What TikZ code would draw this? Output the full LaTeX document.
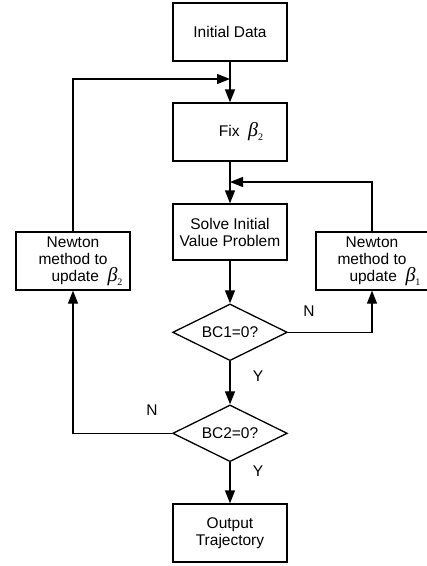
\documentclass[tikz,border=0pt]{standalone}
\usepackage[no-math]{fontspec}
\setmainfont{Liberation Sans}
\newfontfamily\betafont{Liberation Serif}
\usetikzlibrary{shapes.geometric,arrows.meta}
\newcommand{\bt}[1]{{\betafont\fontsize{20}{20}\selectfont\itshape β}\raisebox{-4pt}{\betafont\fontsize{10}{10}\selectfont #1}}
\begin{document}
\begin{tikzpicture}[x=1pt,y=-1pt,
  font=\fontsize{15.5}{17}\selectfont,
  line width=1.3pt,
  boxnode/.style={draw,rectangle,minimum width=114pt,minimum height=58pt,inner sep=0pt,align=center},
  decide/.style={draw,diamond,aspect=2,minimum width=114.6pt,minimum height=56.7pt,inner sep=0pt},
  flow/.style={-{Triangle[length=13pt,width=10pt]}},
  lbl/.style={inner sep=0pt}]
\useasboundingbox (0,0) rectangle (427,566);
\node[boxnode] (init) at (230,32) {Initial Data};
\node[boxnode] (fix) at (230,132) {\hspace*{22pt}Fix\ \ \bt{2}};
\node[boxnode,minimum height=56pt] (solve) at (230,232) {Solve Initial\\Value Problem};
\node[decide] (d1) at (230,332.3) {BC1=0?};
\node[decide] (d2) at (230,433.3) {BC2=0?};
\node[boxnode] (out) at (230,533) {Output\\Trajectory};
\node[boxnode] (nl) at (73,261) {Newton\\method to\hspace*{8pt}\\\hspace*{28pt}update\ \ \bt{2}};
\node[boxnode,minimum width=112pt] (nr) at (372,261) {Newton\\method to\\\hspace*{26pt}update\ \ \bt{1}};
\coordinate (j1) at (230,79);
\coordinate (j2) at (230,182);
\node[lbl] (n1) at (309,311) {N};
\node[lbl] (y1) at (258,376) {Y};
\node[lbl] (n2) at (152,410) {N};
\node[lbl] (y2) at (258,471) {Y};
\draw[flow] (init.south) -- (fix.north);
\draw[flow] (fix.south) -- (solve.north);
\draw[flow] (solve.south) -- (d1.north);
\draw[flow] (d1.south) -- (d2.north);
\draw[flow] (d2.south) -- (out.north);
\draw[flow] (d1.east) -| (nr.south);
\draw[flow] (d2.west) -| (nl.south);
\draw[flow] (nl.north) |- (j1);
\draw[flow] (nr.north) |- (j2);
\end{tikzpicture}
\end{document}
